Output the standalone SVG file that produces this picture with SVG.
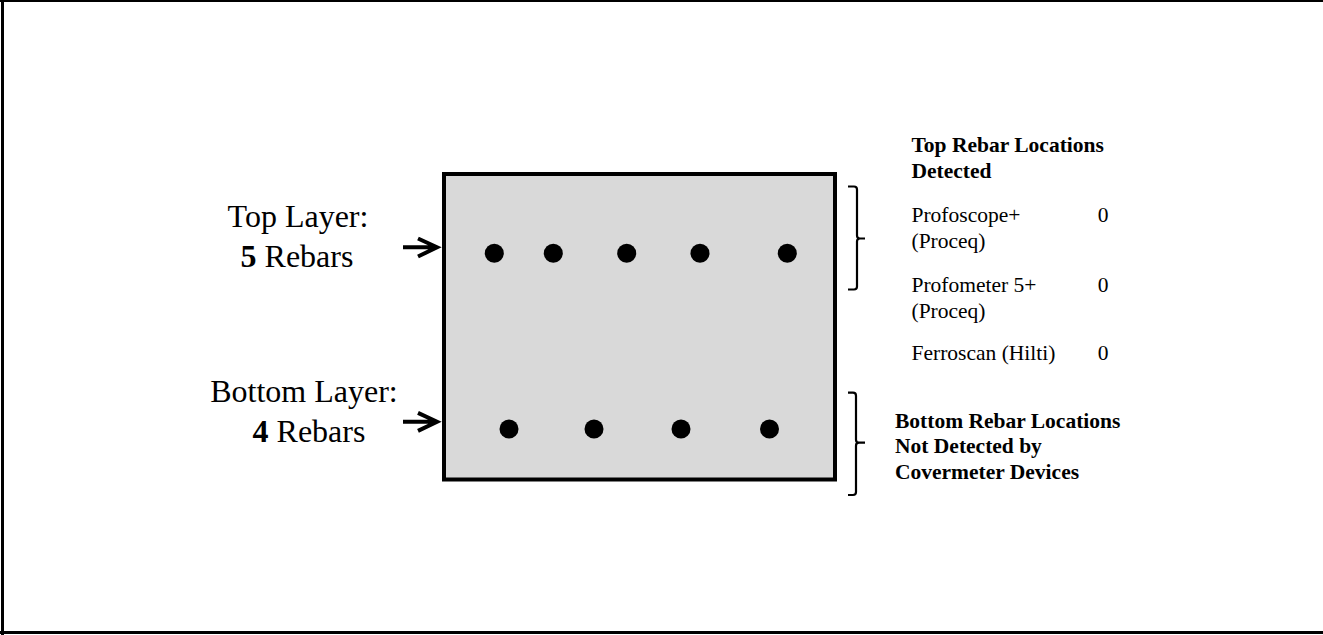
<svg xmlns="http://www.w3.org/2000/svg" width="1323" height="635" viewBox="0 0 1323 635">
<style>
.lbl{font-family:"Liberation Serif","Times New Roman",serif;font-size:32px;fill:#000}
.rt{font-family:"Liberation Serif","Times New Roman",serif;font-size:21.5px;fill:#000}
.b{font-weight:bold}
.dot{fill:#000}
.brace{fill:none;stroke:#000;stroke-width:2.2;stroke-linejoin:round}
.arrow{fill:none;stroke:#000;stroke-width:4;stroke-linecap:butt;stroke-linejoin:miter}
</style>
<rect width="1323" height="635" fill="#fff"/>
<g id="frame" fill="none" stroke="#000">
  <line x1="0" y1="1" x2="1323" y2="1" stroke-width="2"/>
  <line x1="2.5" y1="0" x2="2.5" y2="635" stroke-width="3"/>
  <line x1="0" y1="632.5" x2="1323" y2="632.5" stroke-width="3"/>
</g>
<g id="section">
  <rect x="444" y="174" width="391" height="305.5" fill="#d9d9d9" stroke="#000" stroke-width="4"/>
</g>
<g id="top-rebars">
  <circle class="dot" cx="494.3" cy="253.3" r="9.5"/>
  <circle class="dot" cx="553.3" cy="253.3" r="9.5"/>
  <circle class="dot" cx="626.7" cy="253.3" r="9.5"/>
  <circle class="dot" cx="700" cy="253.3" r="9.5"/>
  <circle class="dot" cx="787.3" cy="253.3" r="9.5"/>
</g>
<g id="bottom-rebars">
  <circle class="dot" cx="509" cy="429" r="9.5"/>
  <circle class="dot" cx="594" cy="429" r="9.5"/>
  <circle class="dot" cx="681" cy="429" r="9.5"/>
  <circle class="dot" cx="769.5" cy="429" r="9.5"/>
</g>
<g id="top-label">
  <text class="lbl" x="298" y="227" text-anchor="middle">Top Layer:</text>
  <text class="lbl" x="297" y="267" text-anchor="middle"><tspan class="b">5</tspan> Rebars</text>
</g>
<g id="bottom-label">
  <text class="lbl" x="304" y="402" text-anchor="middle">Bottom Layer:</text>
  <text class="lbl" x="309" y="442" text-anchor="middle"><tspan class="b">4</tspan> Rebars</text>
</g>
<g id="connectors">
  <path class="arrow" d="M403,247.3 H435 M418,238.5 L437,247.3 L418,256.5"/>
  <path class="arrow" d="M403,421.7 H435 M418,412.9 L437,421.7 L418,430.9"/>
  <path class="brace" d="M848,186.5 H854 Q857,186.5 857,189.5 V235.5 Q857,238.5 860,238.5 H865 M860,238.5 Q857,238.5 857,241.5 V286.5 Q857,289.5 854,289.5 H848"/>
  <path class="brace" d="M848,392.7 H853 Q856,392.7 856,395.7 V439.7 Q856,442.7 859,442.7 H865 M859,442.7 Q856,442.7 856,445.7 V492 Q856,495 853,495 H848"/>
</g>
<g id="top-results">
  <text class="rt b" x="911.5" y="151.7">Top Rebar Locations</text>
  <text class="rt b" x="911.5" y="178.3">Detected</text>
  <text class="rt" x="911.5" y="221.7">Profoscope+</text>
  <text class="rt" x="911.5" y="248.3">(Proceq)</text>
  <text class="rt" x="1103" y="221.7" text-anchor="middle">0</text>
  <text class="rt" x="911.5" y="291.7">Profometer 5+</text>
  <text class="rt" x="911.5" y="318.3">(Proceq)</text>
  <text class="rt" x="1103" y="291.7" text-anchor="middle">0</text>
  <text class="rt" x="911.5" y="360">Ferroscan (Hilti)</text>
  <text class="rt" x="1103" y="360" text-anchor="middle">0</text>
</g>
<g id="bottom-results">
  <text class="rt b" x="895" y="427.5">Bottom Rebar Locations</text>
  <text class="rt b" x="895" y="453">Not Detected by</text>
  <text class="rt b" x="895" y="478.5">Covermeter Devices</text>
</g>
</svg>
